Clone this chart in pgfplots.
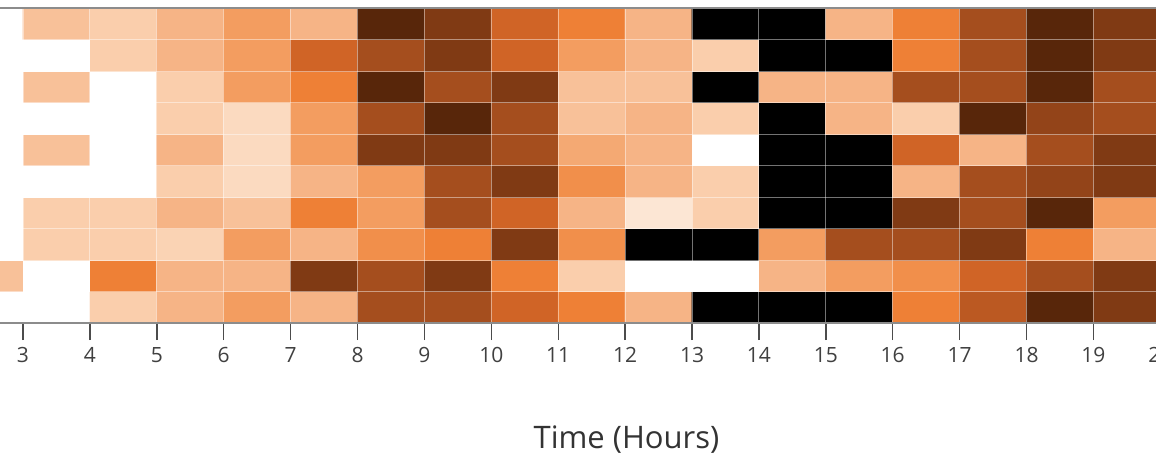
\documentclass[border=0pt]{standalone}
\usepackage{pgfplots}
\pgfplotsset{compat=1.18}
\usepackage{fontspec}
\setmainfont{Open Sans}
\pgfplotsset{colormap={hm}{rgb255(0)=(255,255,255) rgb255(1)=(252,230,212) rgb255(2)=(250,206,172) rgb255(3)=(246,180,134) rgb255(4)=(243,157,96) rgb255(5)=(238,128,54) rgb255(6)=(208,100,38) rgb255(7)=(165,78,30) rgb255(8)=(128,58,20) rgb255(9)=(88,38,10) rgb255(10)=(0,0,0)}}
\begin{document}
\begin{tikzpicture}
\useasboundingbox (21.95pt,-67pt) rectangle (599.95pt,161.5pt);
\clip (21.95pt,-67pt) rectangle (599.95pt,161.5pt);
\begin{axis}[
  at={(0pt,0pt)}, anchor=south west,
  scale only axis, width=608.8pt, height=157.5pt,
  xmin=2, xmax=20.2, ymin=-0.5, ymax=9.5,
  enlargelimits=false,
  colormap name=hm, point meta min=0, point meta max=10,
  xtick={3,...,20}, ytick={0.5,1.5,...,8.5}, yticklabels={},
  ytick style={draw=none},
  xmajorgrids, ymajorgrids,
  grid style={white, opacity=0.45, line width=0.5pt},
  axis on top,
  axis line style={black!45, line width=0.6pt},
  tick align=outside, xtick pos=bottom,
  major tick length=8.5pt,
  xtick style={black!70, line width=0.7pt},
  /pgf/number format/assume math mode=true,
  xticklabel style={font=\fontsize{10.5}{12}\selectfont, text=black!75},
  xlabel={Time (Hours)},
  xlabel style={at={(rel axis cs:0.5506,0)}, anchor=base, yshift=-62.5pt, inner sep=0pt, font=\fontsize{15.5}{18}\selectfont, text=black!80},
]
\addplot[matrix plot*, mesh/cols=18, point meta=explicit] coordinates {
(2.5,0)[0] (3.5,0)[0] (4.5,0)[2] (5.5,0)[3] (6.5,0)[4] (7.5,0)[3] (8.5,0)[7] (9.5,0)[7] (10.5,0)[6] (11.5,0)[5] (12.5,0)[3] (13.5,0)[10] (14.5,0)[10] (15.5,0)[10] (16.5,0)[5] (17.5,0)[6.5] (18.5,0)[9] (19.5,0)[8]
(2.5,1)[2.5] (3.5,1)[0] (4.5,1)[5] (5.5,1)[3] (6.5,1)[3] (7.5,1)[8] (8.5,1)[7] (9.5,1)[8] (10.5,1)[5] (11.5,1)[2] (12.5,1)[0] (13.5,1)[0] (14.5,1)[3] (15.5,1)[4] (16.5,1)[4.5] (17.5,1)[6] (18.5,1)[7] (19.5,1)[8]
(2.5,2)[0] (3.5,2)[2] (4.5,2)[2] (5.5,2)[1.8] (6.5,2)[4] (7.5,2)[3] (8.5,2)[4.5] (9.5,2)[5] (10.5,2)[8] (11.5,2)[4.5] (12.5,2)[10] (13.5,2)[10] (14.5,2)[4] (15.5,2)[7] (16.5,2)[7] (17.5,2)[8] (18.5,2)[5] (19.5,2)[3]
(2.5,3)[0] (3.5,3)[2] (4.5,3)[2] (5.5,3)[3] (6.5,3)[2.5] (7.5,3)[5] (8.5,3)[4] (9.5,3)[7] (10.5,3)[6] (11.5,3)[3] (12.5,3)[1] (13.5,3)[2] (14.5,3)[10] (15.5,3)[10] (16.5,3)[8] (17.5,3)[7] (18.5,3)[9] (19.5,3)[4]
(2.5,4)[0] (3.5,4)[0] (4.5,4)[0] (5.5,4)[2] (6.5,4)[1.5] (7.5,4)[3] (8.5,4)[4] (9.5,4)[7] (10.5,4)[8] (11.5,4)[4.5] (12.5,4)[3] (13.5,4)[2] (14.5,4)[10] (15.5,4)[10] (16.5,4)[3] (17.5,4)[7] (18.5,4)[7.5] (19.5,4)[8]
(2.5,5)[0] (3.5,5)[2.5] (4.5,5)[0] (5.5,5)[3] (6.5,5)[1.5] (7.5,5)[4] (8.5,5)[8] (9.5,5)[8] (10.5,5)[7] (11.5,5)[3.5] (12.5,5)[3] (13.5,5)[0] (14.5,5)[10] (15.5,5)[10] (16.5,5)[6] (17.5,5)[3] (18.5,5)[7] (19.5,5)[8]
(2.5,6)[0] (3.5,6)[0] (4.5,6)[0] (5.5,6)[2] (6.5,6)[1.5] (7.5,6)[4] (8.5,6)[7] (9.5,6)[9] (10.5,6)[7] (11.5,6)[2.5] (12.5,6)[3] (13.5,6)[2] (14.5,6)[10] (15.5,6)[3] (16.5,6)[2] (17.5,6)[9] (18.5,6)[7.5] (19.5,6)[7]
(2.5,7)[0] (3.5,7)[2.5] (4.5,7)[0] (5.5,7)[2] (6.5,7)[4] (7.5,7)[5] (8.5,7)[9] (9.5,7)[7] (10.5,7)[8] (11.5,7)[2.5] (12.5,7)[2.5] (13.5,7)[10] (14.5,7)[3] (15.5,7)[3] (16.5,7)[7] (17.5,7)[7] (18.5,7)[9] (19.5,7)[7]
(2.5,8)[0] (3.5,8)[0] (4.5,8)[2] (5.5,8)[3] (6.5,8)[4] (7.5,8)[6] (8.5,8)[7] (9.5,8)[8] (10.5,8)[6] (11.5,8)[4] (12.5,8)[3] (13.5,8)[2] (14.5,8)[10] (15.5,8)[10] (16.5,8)[5] (17.5,8)[7] (18.5,8)[9] (19.5,8)[8]
(2.5,9)[0] (3.5,9)[2.5] (4.5,9)[2] (5.5,9)[3] (6.5,9)[4] (7.5,9)[3] (8.5,9)[9] (9.5,9)[8] (10.5,9)[6] (11.5,9)[5] (12.5,9)[3] (13.5,9)[10] (14.5,9)[10] (15.5,9)[3] (16.5,9)[5] (17.5,9)[7] (18.5,9)[9] (19.5,9)[8]
};
\end{axis}
\end{tikzpicture}
\end{document}
